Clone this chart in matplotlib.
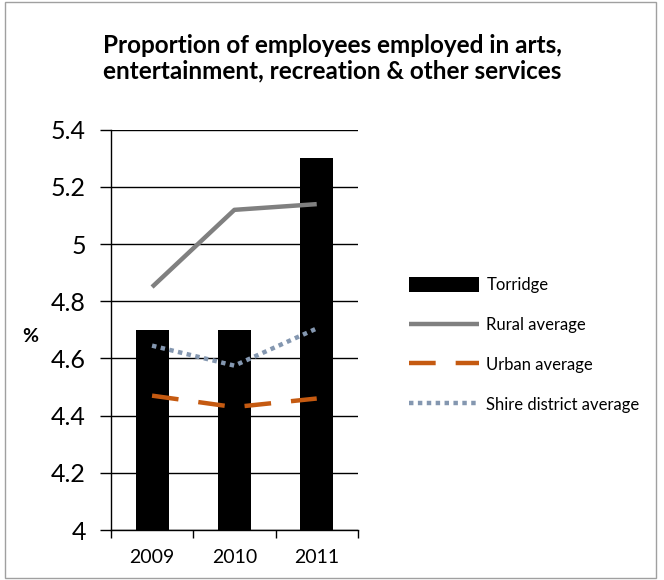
import matplotlib
matplotlib.use("Agg")
import matplotlib.pyplot as plt
from matplotlib.patches import Rectangle

years = ["2009", "2010", "2011"]
torridge = [4.7, 4.7, 5.3]
rural = [4.85, 5.12, 5.14]
urban = [4.47, 4.43, 4.46]
shire = [4.645, 4.575, 4.705]
yticks = [4.0, 4.2, 4.4, 4.6, 4.8, 5.0, 5.2, 5.4]
ytick_labels = ["4", "4.2", "4.4", "4.6", "4.8", "5", "5.2", "5.4"]

plt.rcParams['font.family'] = ['Lato', 'DejaVu Sans']

fig = plt.figure(figsize=(6.64, 5.8), dpi=100)
fig.patches.append(Rectangle((5/664, 2/580), 651/664, 576/580, transform=fig.transFigure,
                             fill=False, edgecolor='#a0a0a0', linewidth=1))
ax = fig.add_axes([0.167, 0.0862, 0.372, 0.69])

x = list(range(len(years)))
b = ax.bar(x, [t - 4.0 for t in torridge], bottom=4.0, width=0.4, color='black', zorder=2, label='Torridge')
l1, = ax.plot(x, rural, color='#808080', lw=3.2, solid_capstyle='butt', zorder=3, label='Rural average')
l2, = ax.plot(x, urban, color='#C55A11', lw=3.2, linestyle=(0, (6, 4.5)), dash_capstyle='butt', zorder=3, label='Urban average')
l3, = ax.plot(x, shire, color='#8497B0', lw=3.2, linestyle=(0, (1, 1)), dash_capstyle='butt', zorder=3, label='Shire district average')

ax.set_xlim(-0.5, 2.5)
ax.set_ylim(4.0, 5.4)
ax.set_yticks(yticks)
ax.set_yticklabels(ytick_labels, fontsize=18)
ax.yaxis.grid(True, color='black', linewidth=1, zorder=0)
ax.set_axisbelow(True)
ax.set_xticks([-0.5, 0.5, 1.5, 2.5])
ax.set_xticklabels([])
ax.set_xticks(x, minor=True)
ax.set_xticklabels(years, minor=True, fontsize=14)
ax.tick_params(axis='x', which='minor', length=0, pad=14)
ax.tick_params(axis='x', which='major', length=6, width=1, color='black')
ax.tick_params(axis='y', length=8, width=1, color='black', pad=10)
for s in ['top', 'right']:
    ax.spines[s].set_visible(False)
for s in ['left', 'bottom']:
    ax.spines[s].set_color('black')
    ax.spines[s].set_linewidth(1)

fig.text(0.045, 0.42, '%', fontsize=14, fontweight='bold', ha='center', va='center')
fig.text(0.5, 0.899, 'Proportion of employees employed in arts,\nentertainment, recreation & other services',
         fontsize=17.5, fontweight='bold', ha='center', va='center', linespacing=1.12)

leg = fig.legend([b, l1, l2, l3], ['Torridge', 'Rural average', 'Urban average', 'Shire district average'],
                 loc='upper left', bbox_to_anchor=(0.593, 0.548), frameon=False,
                 fontsize=12, handlelength=4.2, handleheight=1.0, labelspacing=1.42, handletextpad=0.45)

fig.savefig('out.png', dpi=100)
